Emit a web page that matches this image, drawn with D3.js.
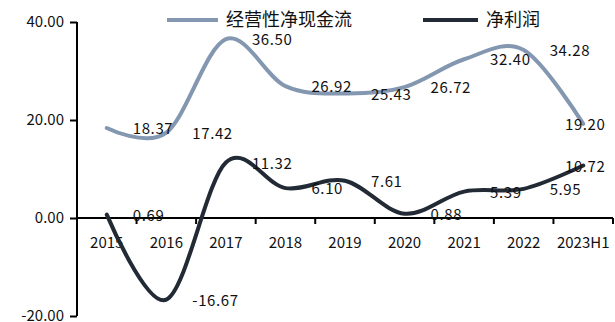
<!DOCTYPE html>
<html>
<head>
<meta charset="utf-8">
<script src="https://cdn.jsdelivr.net/npm/d3@7"></script>
<style>
  body { margin: 0; background: #fff; }
  svg { font-family: "Noto Sans CJK SC", sans-serif; }
</style>
</head>
<body>
<svg id="chart" width="615" height="322"></svg>
<script>
const categories = ['2015', '2016', '2017', '2018', '2019', '2020', '2021', '2022', '2023H1'];
const cashFlow = [18.37, 17.42, 36.50, 26.92, 25.43, 26.72, 32.40, 34.28, 19.20];
const netProfit = [0.69, -16.67, 11.32, 6.10, 7.61, 0.88, 5.39, 5.95, 10.72];
const yTicks = [-20, 0, 20, 40];
const seriesNames = ['经营性净现金流', '净利润'];

const colors = ['#8497b0', '#222a35'];
const margin = { left: 77, right: 2, top: 22, bottom: 6 };
const size = { width: 615, height: 322 };

const svg = d3.select('#chart');

const xScale = d3.scaleBand()
    .domain(categories)
    .range([margin.left, size.width - margin.right])
    .padding(0);

const yScale = d3.scaleLinear()
    .domain([-20, 40])
    .range([size.height - margin.bottom, margin.top]);

const fmt = v => v.toFixed(2);
const cx = c => xScale(c) + xScale.bandwidth() / 2;

// y axis
const yAxis = svg.append('g')
    .attr('transform', `translate(${margin.left}, 0)`)
    .call(d3.axisLeft(yScale).tickValues(yTicks).tickFormat(fmt).tickSize(7).tickPadding(6));
yAxis.select('.domain').attr('stroke', '#000').attr('stroke-width', 2).attr('d', `M0,${yScale(40)}V${yScale(-20)}`);
yAxis.selectAll('.tick line').attr('stroke', '#000').attr('stroke-width', 2);
yAxis.selectAll('.tick text').attr('font-size', 15).attr('font-family', '"Noto Sans CJK SC", sans-serif').attr('fill', '#111');

// x axis at zero, ticks between categories
const xAxis = svg.append('g')
    .attr('transform', `translate(0, ${yScale(0)})`);
xAxis.append('line')
    .attr('x1', margin.left).attr('x2', size.width - margin.right)
    .attr('stroke', '#000').attr('stroke-width', 2);
xAxis.selectAll('.xtick')
    .data(categories)
    .join('line')
    .attr('class', 'xtick')
    .attr('x1', d => xScale(d) + xScale.bandwidth())
    .attr('x2', d => xScale(d) + xScale.bandwidth())
    .attr('y1', 0).attr('y2', 6)
    .attr('stroke', '#000').attr('stroke-width', 2);
xAxis.selectAll('.xlabel')
    .data(categories)
    .join('text')
    .attr('class', 'xlabel')
    .attr('x', d => cx(d))
    .attr('y', 25)
    .attr('dy', '0.35em')
    .attr('text-anchor', 'middle')
    .attr('font-size', 15)
    .attr('fill', '#111')
    .text(d => d);

// lines
const line = d3.line()
    .x((d, i) => cx(categories[i]))
    .y(d => yScale(d))
    .curve(d3.curveCardinal);

[cashFlow, netProfit].forEach((values, s) => {
    svg.append('path')
        .datum(values)
        .attr('fill', 'none')
        .attr('stroke', colors[s])
        .attr('stroke-width', 4)
        .attr('stroke-linecap', 'round')
        .attr('d', line);
});

// data labels: right of the point, last one centred
[cashFlow, netProfit].forEach(values => {
    svg.append('g')
        .selectAll('text')
        .data(values)
        .join('text')
        .attr('x', (d, i) => i === categories.length - 1 ? cx(categories[i]) + 2 : cx(categories[i]) + 26)
        .attr('y', d => yScale(d) + 1)
        .attr('dy', '0.35em')
        .attr('text-anchor', (d, i) => i === categories.length - 1 ? 'middle' : 'start')
        .attr('font-size', 15)
        .attr('letter-spacing', 0.6)
        .attr('fill', '#111')
        .text(d => fmt(d));
});

// legend
const legendPos = [{ x: 167, w: 51 }, { x: 423, w: 55 }];
seriesNames.forEach((name, i) => {
    const g = svg.append('g').attr('transform', `translate(${legendPos[i].x}, 20)`);
    g.append('line')
        .attr('x1', 0).attr('x2', legendPos[i].w)
        .attr('stroke', colors[i]).attr('stroke-width', 4);
    g.append('text')
        .attr('x', legendPos[i].w + 8)
        .attr('dy', '0.35em')
        .attr('font-size', 18)
        .attr('fill', '#111')
        .text(name);
});
</script>
</body>
</html>
